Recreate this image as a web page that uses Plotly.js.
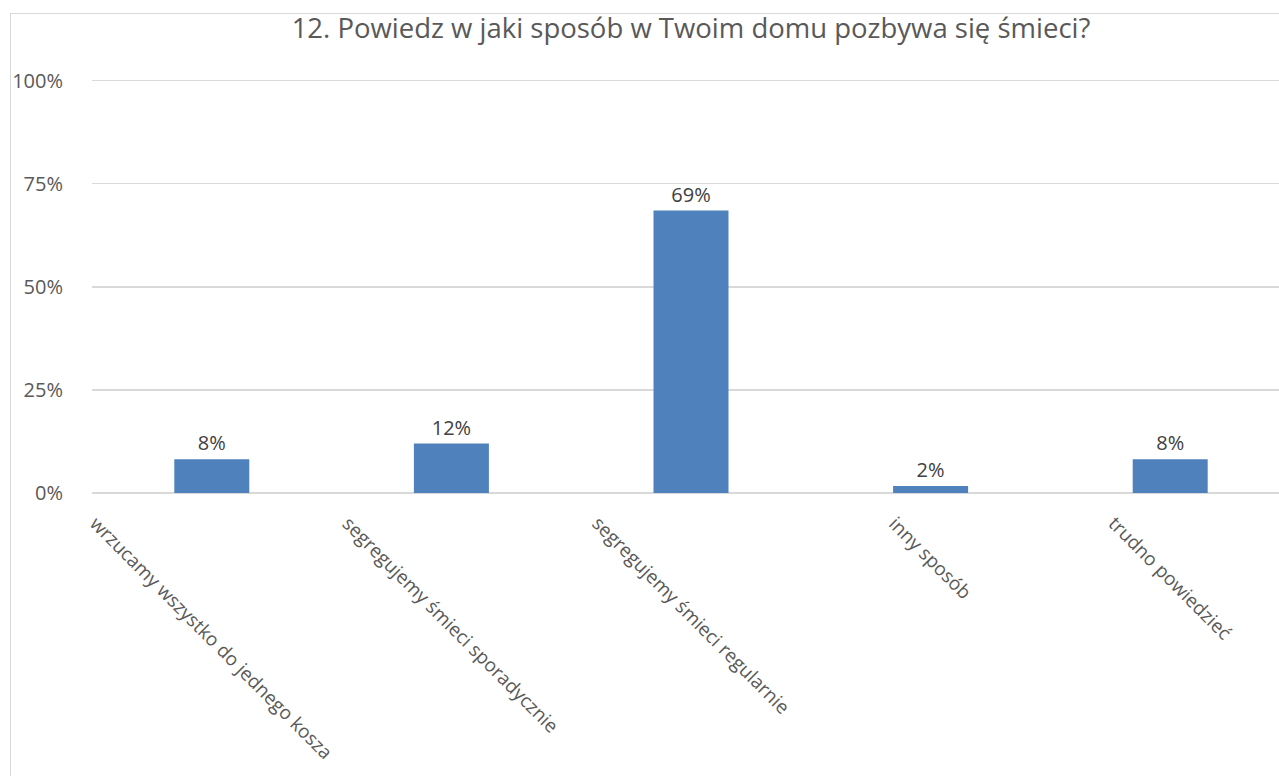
<!DOCTYPE html>
<html>
<head>
<meta charset="utf-8">
<script src="https://cdn.plot.ly/plotly-3.0.1.min.js"></script>
<style>
  html, body { margin: 0; padding: 0; background: #fff; overflow: hidden; }
  #chart { width: 1292px; height: 776px; }
  #frame { position: absolute; left: 10px; top: 13px; width: 1400px; height: 900px;
           border-left: 1.5px solid #d9d9d9; border-top: 1.5px solid #d9d9d9; pointer-events: none; }
</style>
</head>
<body>
<div id="chart"></div>
<div id="frame"></div>
<script>
const titleText = "12. Powiedz w jaki sposób w Twoim domu pozbywa się śmieci?";
const categories = [
  "wrzucamy wszystko do jednego kosza",
  "segregujemy śmieci sporadycznie",
  "segregujemy śmieci regularnie",
  "inny sposób",
  "trudno powiedzieć"
];
const values = [0.082, 0.12, 0.685, 0.017, 0.082];
const yTickVals = [0, 0.25, 0.5, 0.75, 1];
const yTickText = ["0%", "25%", "50%", "75%", "100%"];

const FONT = "'Open Sans', 'Noto Sans', sans-serif";
const GREY = "#595959";

const trace = {
  type: "bar",
  x: categories,
  y: values,
  marker: { color: "#4F81BD" },
  text: values.map(v => Math.round(v * 100) + "%"),
  textposition: "outside",
  textfont: { family: FONT, size: 20, color: "#404040" },
  cliponaxis: false,
  hoverinfo: "none"
};

const annotations = categories.map(c => ({
  x: c, xref: "x",
  y: 0, yref: "y",
  yanchor: "top", xanchor: "center",
  yshift: -15,
  text: c,
  textangle: 45,
  showarrow: false,
  font: { family: FONT, size: 19, color: GREY }
}));

const layout = {
  width: 1292, height: 776,
  margin: { l: 92, r: 2, t: 79, b: 283 },
  paper_bgcolor: "#fff", plot_bgcolor: "#fff",
  showlegend: false,
  bargap: 0.687,
  title: {
    text: titleText,
    font: { family: FONT, size: 27.5, color: GREY },
    x: 0.5, xref: "paper", xanchor: "center",
    y: 1, yref: "container", yanchor: "top", pad: { t: 19 }
  },
  xaxis: {
    type: "category",
    range: [-0.5, 4.5],
    showticklabels: false,
    showgrid: false, zeroline: false, showline: false, ticks: ""
  },
  yaxis: {
    range: [0, 1.004],
    tickvals: yTickVals,
    ticktext: yTickText,
    tickfont: { family: FONT, size: 20, color: GREY },
    showgrid: true, gridcolor: "#d9d9d9", gridwidth: 1.5,
    zeroline: true, zerolinecolor: "#d9d9d9", zerolinewidth: 2,
    showline: false, ticks: "",
    ticklabelstandoff: 28
  },
  annotations: annotations
};

Plotly.newPlot("chart", [trace], layout, { displayModeBar: false, staticPlot: true });
</script>
</body>
</html>
